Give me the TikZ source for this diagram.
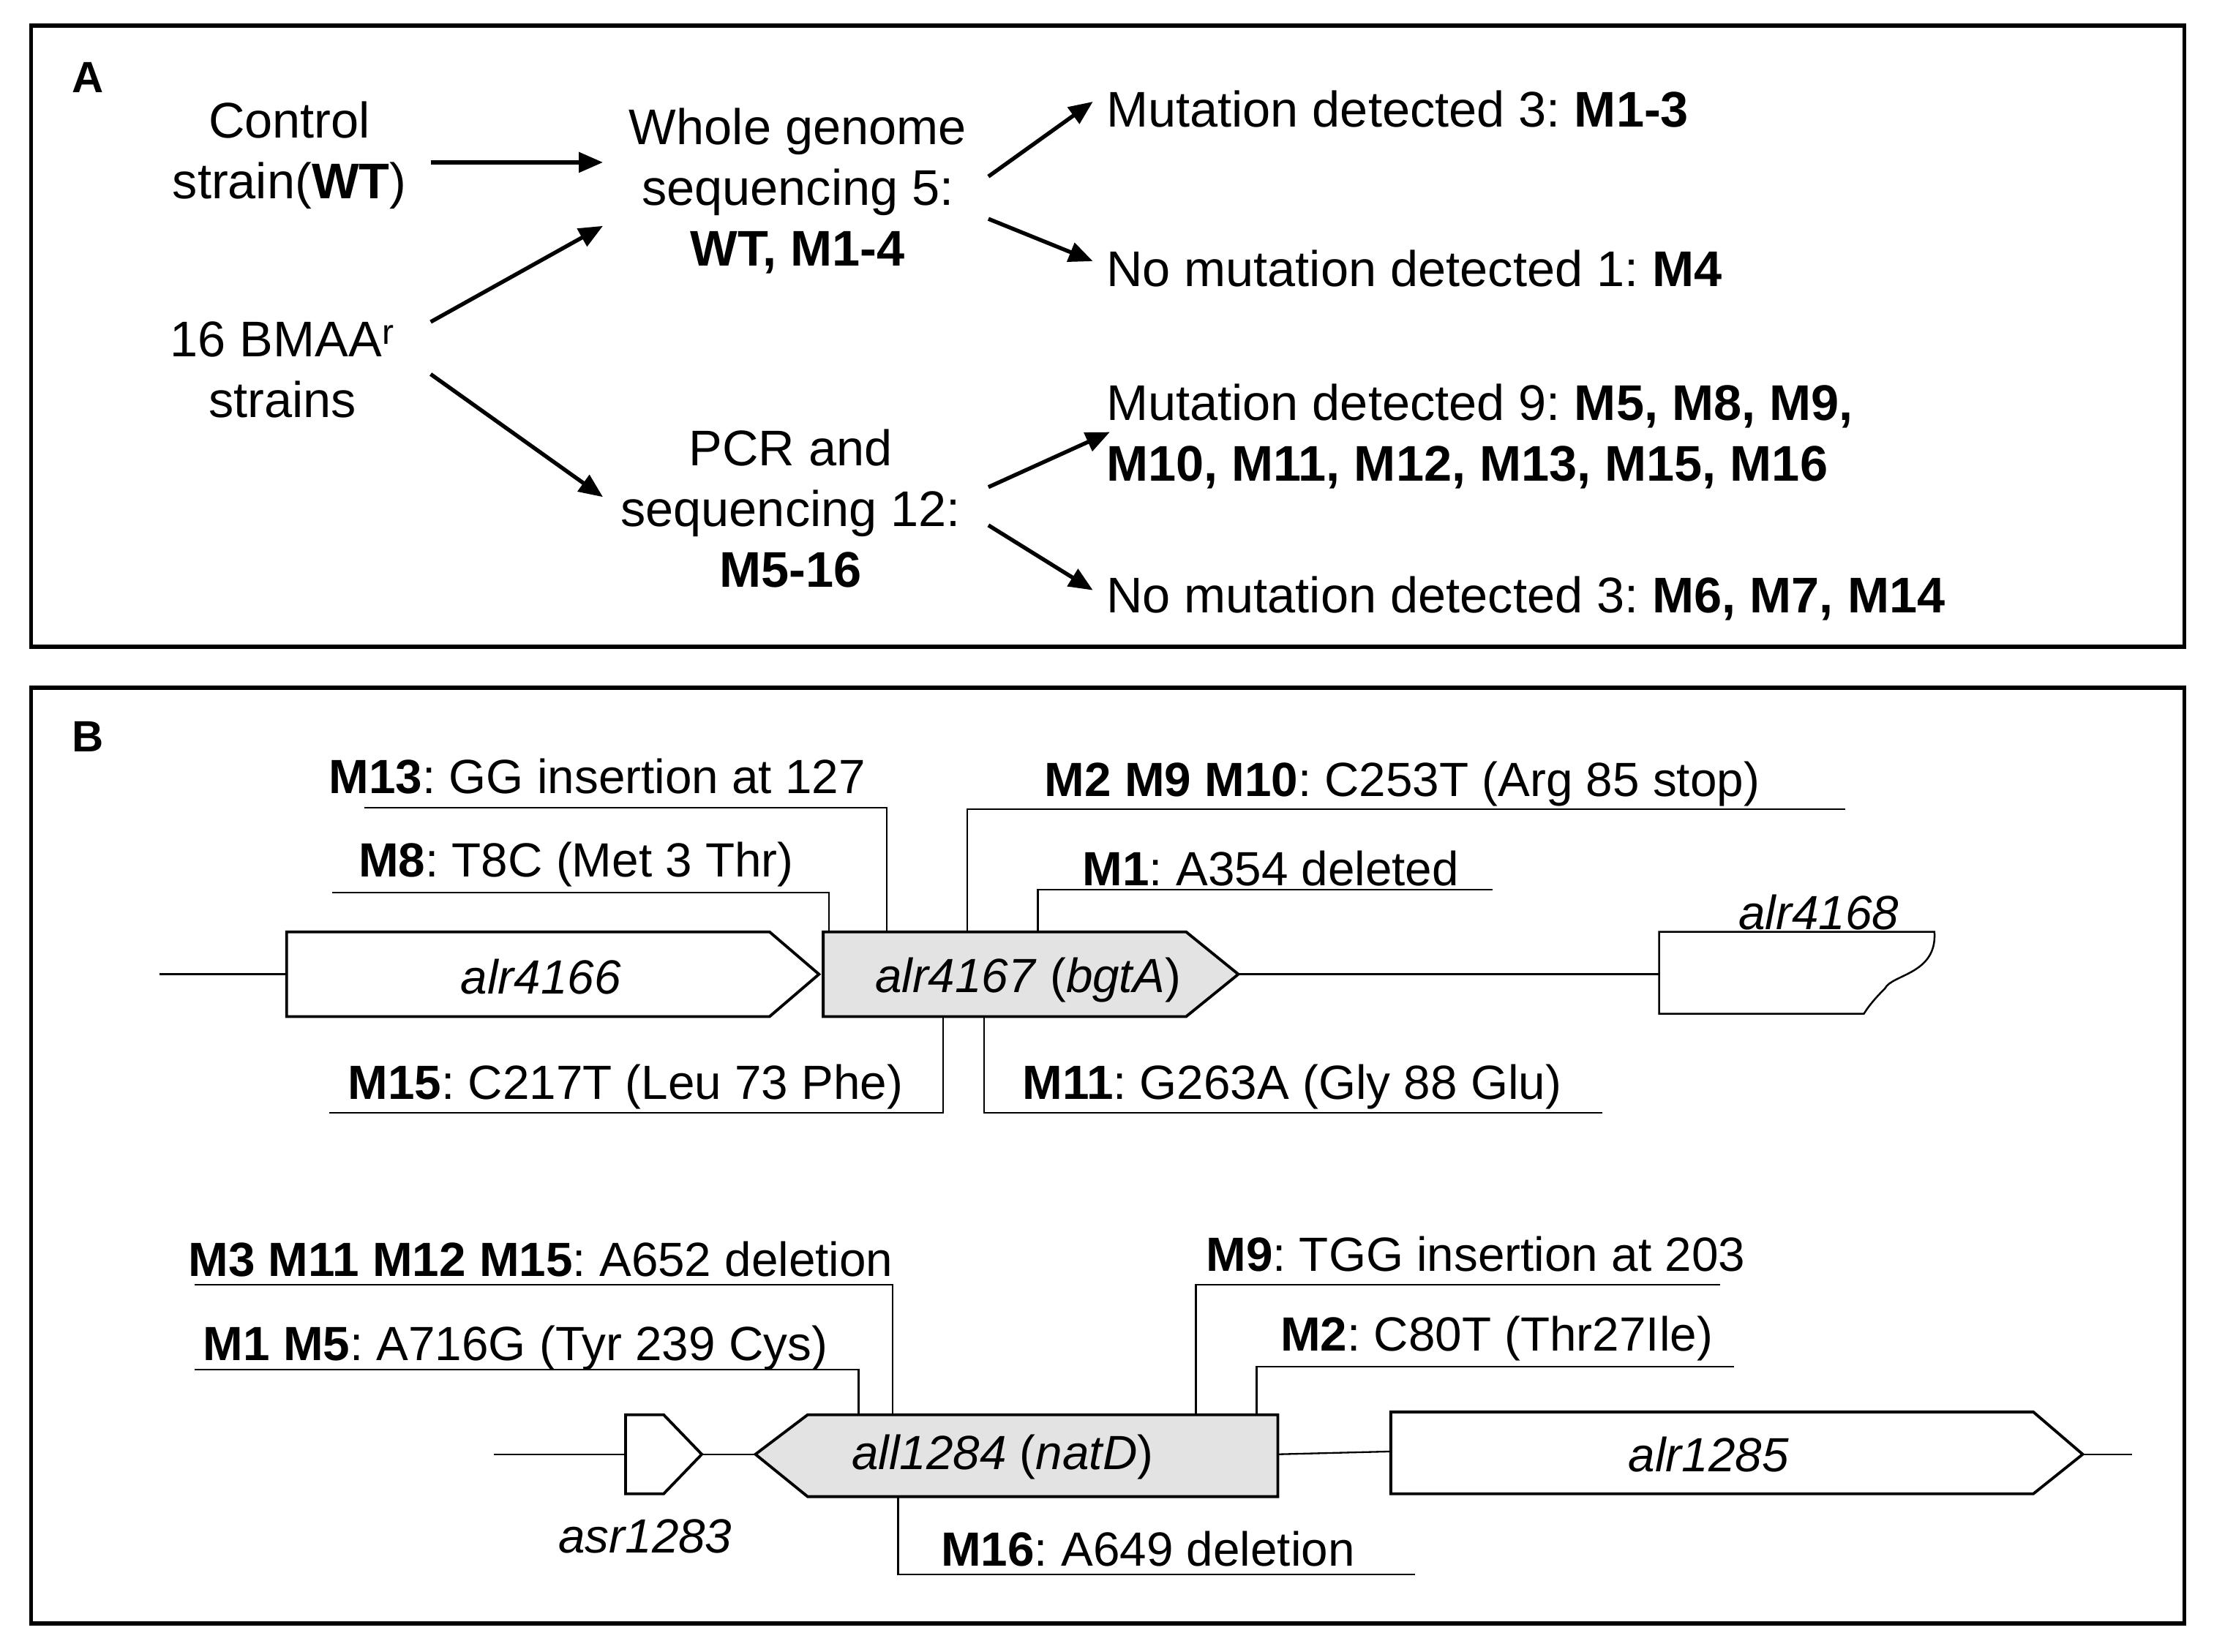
\documentclass[tikz,border=0pt]{standalone}
\usepackage{fontspec}
\setmainfont{Liberation Sans}
\usetikzlibrary{arrows.meta}
\begin{document}
\frenchspacing
\begin{tikzpicture}[x=1pt,y=-1pt,
 fa/.style={font=\fontsize{35.5}{43}\selectfont},
 fb/.style={font=\fontsize{34}{36}\selectfont},
 arr/.style={line width=2.8pt,-{Triangle[length=17pt,width=14pt]}},
 lead/.style={line width=1.2pt},
 gene/.style={line width=2pt,fill=white},
 ggene/.style={line width=2pt,fill=gray!22}]
\useasboundingbox (0,0) rectangle (1568,1170);
\draw[line width=3pt] (22,18) rectangle (1547,458);
\draw[line width=3pt] (22,487) rectangle (1547,1150);
% Panel A
\node[font=\fontsize{31}{43}\selectfont\bfseries] (la) at (62,55) {A};
\node[fa,align=center] (wt) at (205,110) {Control\\strain(\textbf{WT})};
\node[fa,align=center] (bm) at (200,262) {16 BMAA\textsuperscript{r}\\strains};
\node[fa,align=center] (wg) at (565,135) {Whole genome\\sequencing 5:\\\textbf{WT, M1-4}};
\node[fa,align=center] (pcr) at (560,360) {PCR and\\sequencing 12:\\\textbf{M5-16}};
\node[fa,anchor=west] (r1) at (780,77) {Mutation detected 3: \textbf{M1-3}};
\node[fa,anchor=west] (r2) at (780,190) {No mutation detected 1: \textbf{M4}};
\node[fa,anchor=west,align=left] (r3) at (780,309) {Mutation detected 9: \textbf{M5, M8, M9,}\\\textbf{M10, M11, M12, M13, M15, M16}};
\node[fa,anchor=west] (r4) at (780,424) {No mutation detected 3: \textbf{M6, M7, M14}};
\coordinate (a1s) at (305,115); \coordinate (a1e) at (427,115);
\coordinate (a2s) at (305,228); \coordinate (a2e) at (427,160);
\coordinate (a3s) at (305,265); \coordinate (a3e) at (427,352);
\coordinate (a4s) at (700,125); \coordinate (a4e) at (774,72);
\coordinate (a5s) at (700,155); \coordinate (a5e) at (774,185);
\coordinate (a6s) at (700,345); \coordinate (a6e) at (786,306);
\coordinate (a7s) at (700,372); \coordinate (a7e) at (774,418);
\foreach \i in {1,...,7} \draw[arr] (a\i s) -- (a\i e);
% Panel B
\node[font=\fontsize{31}{43}\selectfont\bfseries] (lb) at (62,522) {B};
\draw[lead] (113,690) -- (203,690);
\draw[gene] (203,660) -- (545,660) -- (580,690) -- (545,720) -- (203,720) -- cycle;
\node[font=\fontsize{34}{36}\selectfont\itshape] (g1) at (383,692) {alr4166};
\draw[ggene] (583,660) -- (840,660) -- (877,690) -- (840,720) -- (583,720) -- cycle;
\node[fb] (g2) at (728,694) {\textit{alr4167} (\textit{bgtA})};
\draw[lead] (877,690) -- (1175,690);
\draw[line width=1.3pt] (1175,660) -- (1370,660) .. controls (1372,690) and (1340,690) .. (1335,700) .. controls (1325,710) and (1322,715) .. (1320,718) -- (1175,718) -- cycle;
\node[font=\fontsize{34}{36}\selectfont\itshape] (g3) at (1288,646) {alr4168};
% leaders upper
\node[fb] (t1) at (423,550) {\textbf{M13}: GG insertion at 127};
\draw[lead] (258,572) -- (628,572) -- (628,660);
\node[fb] (t2) at (408,612) {\textbf{M8}: T8C (Met 3 Thr)};
\draw[lead] (235,632) -- (587,632) -- (587,660);
\node[fb] (t3) at (993,555) {\textbf{M2 M9 M10}: C253T (Arg 85 stop)};
\draw[lead] (1307,573) -- (685,573) -- (685,660);
\node[fb] (t4) at (900,615) {\textbf{M1}: A354 deleted};
\draw[lead] (1057,630) -- (735,630) -- (735,660);
\node[fb] (t5) at (443,770) {\textbf{M15}: C217T (Leu 73 Phe)};
\draw[lead] (233,788) -- (668,788) -- (668,720);
\node[fb] (t6) at (915,770) {\textbf{M11}: G263A (Gly 88 Glu)};
\draw[lead] (1135,788) -- (697,788) -- (697,720);
% lower
\draw[lead] (350,1030) -- (443,1030);
\draw[gene] (443,1002) -- (470,1002) -- (497,1030) -- (470,1058) -- (443,1058) -- cycle;
\draw[lead] (497,1030) -- (535,1030);
\draw[ggene] (535,1030) -- (572,1002) -- (905,1002) -- (905,1060) -- (572,1060) -- cycle;
\node[fb] (g5) at (710,1032) {\textit{all1284} (\textit{natD})};
\draw[lead] (905,1030) -- (985,1028);
\draw[gene] (985,1000) -- (1440,1000) -- (1475,1030) -- (1440,1058) -- (985,1058) -- cycle;
\node[font=\fontsize{34}{36}\selectfont\itshape] (g6) at (1210,1030) {alr1285};
\draw[lead] (1475,1030) -- (1510,1030);
\node[font=\fontsize{34}{36}\selectfont\itshape] (g4) at (457,1088) {asr1283};
\node[fb] (t7) at (383,892) {\textbf{M3 M11 M12 M15}: A652 deletion};
\draw[lead] (138,910) -- (632,910) -- (632,1002);
\node[fb] (t8) at (365,955) {\textbf{M1 M5}: A716G (Tyr 239 Cys)};
\draw[lead] (138,970) -- (608,970) -- (608,1002);
\node[fb] (t9) at (1045,888) {\textbf{M9}: TGG insertion at 203};
\draw[lead] (1218,910) -- (847,910) -- (847,1002);
\node[fb] (t10) at (1060,948) {\textbf{M2}: C80T (Thr27Ile)};
\draw[lead] (1228,968) -- (890,968) -- (890,1002);
\node[fb] (t11) at (813,1097) {\textbf{M16}: A649 deletion};
\draw[lead] (1002,1115) -- (636,1115) -- (636,1060);
\end{tikzpicture}
\end{document}
